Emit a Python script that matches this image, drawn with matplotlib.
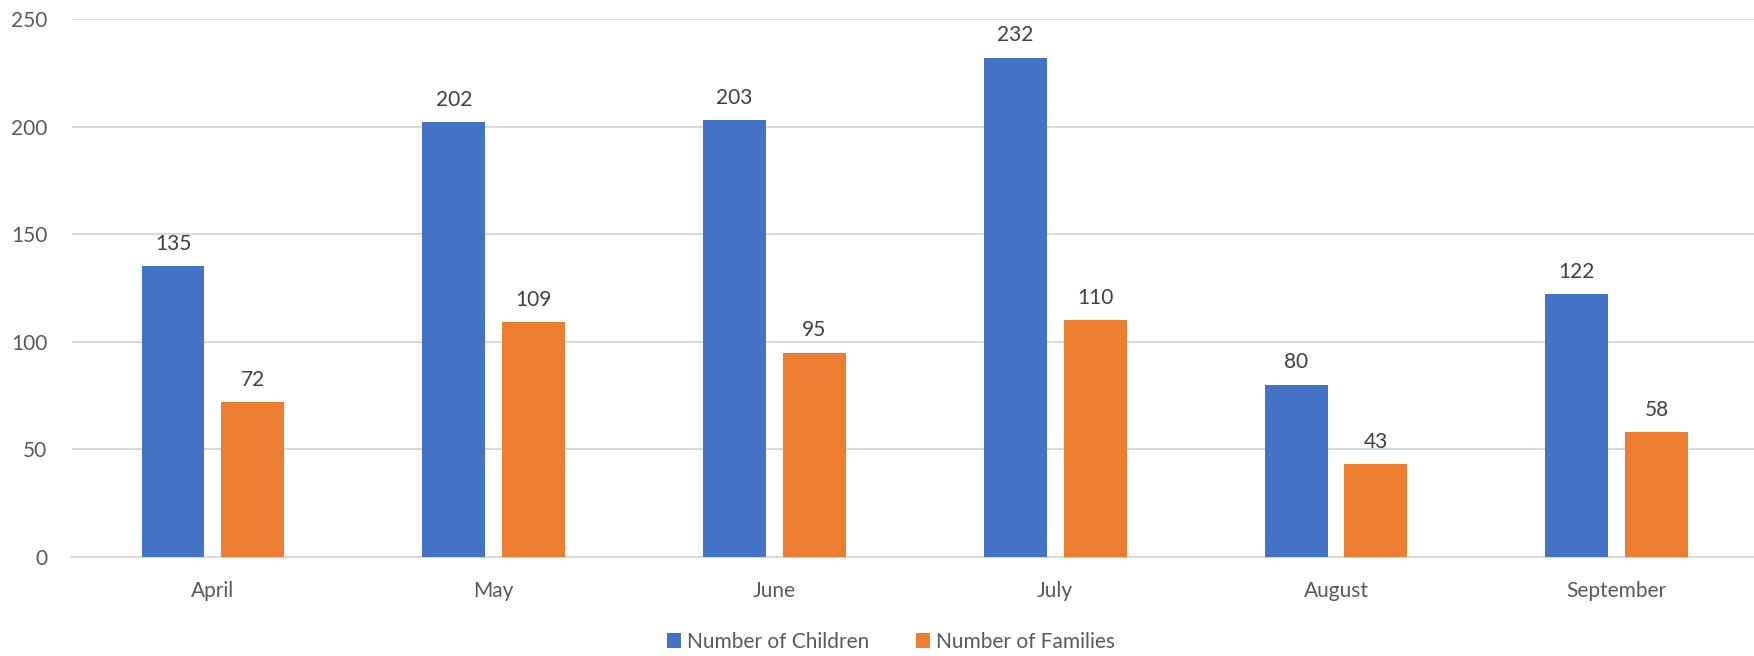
import numpy as np
import matplotlib.pyplot as plt

months = ["April", "May", "June", "July", "August", "September"]
children = [135, 202, 203, 232, 80, 122]
families = [72, 109, 95, 110, 43, 58]

plt.rcParams['font.family'] = ['Lato', 'DejaVu Sans']

fig = plt.figure(figsize=(17.54, 6.56), dpi=100)
ax = fig.add_axes([0.0413, 0.151, 0.9605, 0.820])

x = np.arange(len(months))
w = 0.224
off = 0.142
b1 = ax.bar(x - off, children, w, color='#4472C4', label='Number of Children', zorder=3)
b2 = ax.bar(x + off, families, w, color='#ED7D31', label='Number of Families', zorder=3)

for bars in (b1, b2):
    for rect in bars:
        h = rect.get_height()
        ax.annotate(f"{h:.0f}", (rect.get_x() + rect.get_width() / 2, h),
                    xytext=(0, 9), textcoords='offset points',
                    ha='center', va='bottom', fontsize=15, color='#404040')

ax.set_xlim(-0.5, len(months) - 0.5)
ax.set_ylim(0, 250)
ax.set_yticks(np.arange(0, 251, 50))
ax.set_xticks(x)
ax.set_xticklabels(months)
ax.grid(axis='y', color='#D9D9D9', linewidth=1.5, zorder=0)
for s in ['top', 'right', 'left']:
    ax.spines[s].set_visible(False)
ax.spines['bottom'].set_color('#D9D9D9')
ax.spines['bottom'].set_linewidth(1.5)
ax.tick_params(axis='both', length=0, labelsize=15, colors='#595959')
ax.tick_params(axis='y', pad=18)
ax.tick_params(axis='x', pad=17)

fig.legend(handles=[b1, b2], loc='center', bbox_to_anchor=(0.508, 0.022),
           ncol=2, frameon=False, fontsize=15, labelcolor='#595959',
           handlelength=0.7, handleheight=0.7, handletextpad=0.3, columnspacing=2.2)

fig.savefig('out.png', dpi=100)
